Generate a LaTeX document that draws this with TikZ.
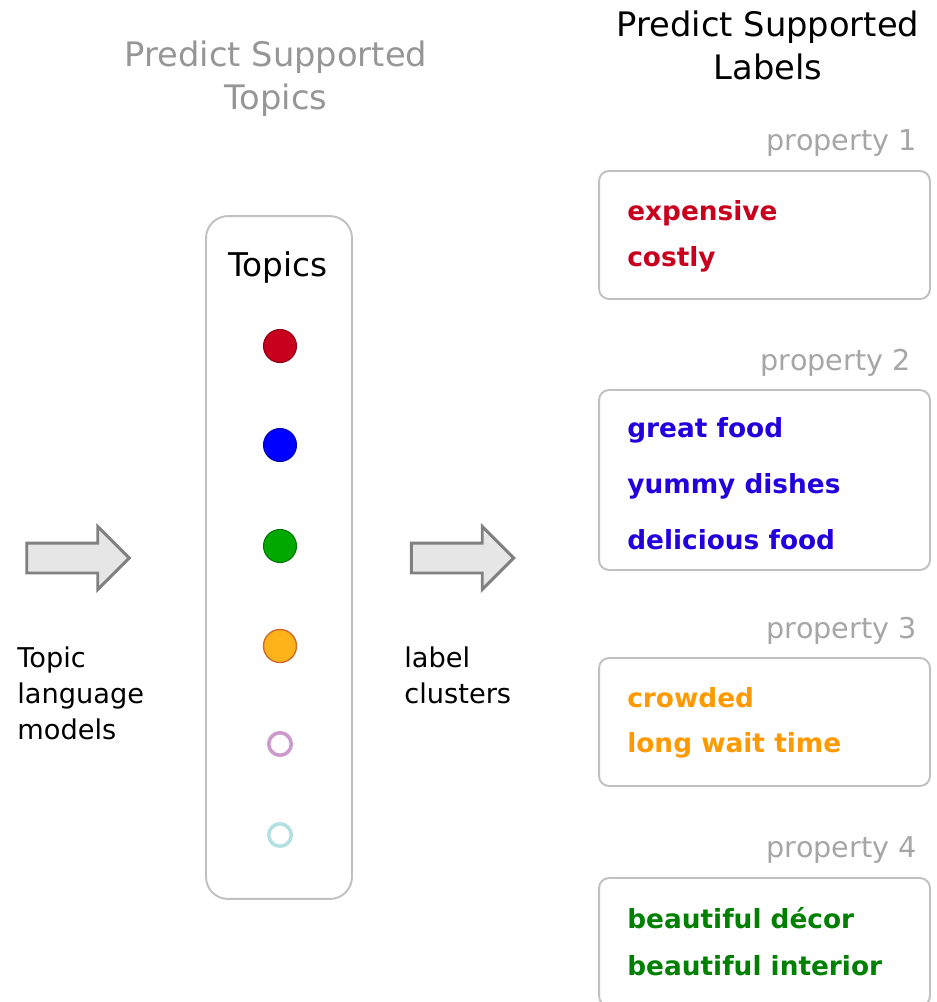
\documentclass[tikz,border=0pt]{standalone}
\usepackage{fontspec}
\setmainfont{DejaVu Sans}
\usepackage{tikz}
\usetikzlibrary{shapes.arrows}

\definecolor{headgray}{RGB}{150,150,150}
\definecolor{propgray}{RGB}{166,166,166}
\definecolor{boxgray}{RGB}{192,192,192}
\definecolor{arrowgray}{RGB}{128,128,128}
\definecolor{arrowfill}{RGB}{230,230,230}
\definecolor{wred}{RGB}{200,0,30}
\definecolor{wblue}{RGB}{34,0,221}
\definecolor{worange}{RGB}{255,153,0}
\definecolor{wgreen}{RGB}{0,128,0}
\definecolor{dblue}{RGB}{0,0,255}
\definecolor{dgreen}{RGB}{0,168,0}
\definecolor{dorange}{RGB}{255,179,26}
\definecolor{dorangeline}{RGB}{208,107,42}
\definecolor{rpurple}{RGB}{204,153,204}
\definecolor{rcyan}{RGB}{179,224,224}

\begin{document}
\begin{tikzpicture}[x=0.02cm,y=-0.02cm,
        headline/.style={align=center,font=\fontsize{19.2}{24.5}\selectfont},
        sidetext/.style={align=left,anchor=west,inner sep=0pt,font=\fontsize{15.5}{20.5}\selectfont},
        proptext/.style={anchor=east,inner sep=0pt,text=propgray,font=\fontsize{16.3}{20}\selectfont},
        words/.style={align=left,anchor=west,inner sep=0pt,font=\bfseries\fontsize{15}{#1}\selectfont},
        labelbox/.style={draw=boxgray,line width=1.1pt,rounded corners=0.2cm,
                         minimum width=6.62cm,minimum height=2.56cm},
        dot/.style={circle,draw=#1!70!black,fill=#1,line width=0.6pt,minimum size=0.66cm,inner sep=0pt},
        ring/.style={circle,draw=#1,line width=2pt,minimum size=0.45cm,inner sep=0pt},
        bigarrow/.style={single arrow,draw=arrowgray,fill=arrowfill,line width=1.7pt,
                         minimum height=2.05cm,text height=0.27cm,text depth=0.27cm,
                         single arrow head extend=0.33cm,inner sep=0pt}]

  \useasboundingbox (0,0) rectangle (937,1002);
  \clip (0,0) rectangle (937,1002);

  \node[headline,text=headgray] (t_topics) at (276,79) {Predict Supported\\Topics};
  \node[headline] (t_labels) at (768,45.5) {Predict Supported\\Labels};

  % topic column
  \node[draw=boxgray,line width=1.1pt,rounded corners=0.44cm,
        minimum width=2.92cm,minimum height=13.66cm] (col) at (279,557.5) {};
  \node[font=\fontsize{18.6}{22}\selectfont] (col_title) at (278,267) {Topics};
  \node[dot=wred] (d_1) at (280,346) {};
  \node[dot=dblue] (d_2) at (280,445) {};
  \node[dot=dgreen] (d_3) at (280,546) {};
  \node[dot=dorange,draw=dorangeline,line width=0.8pt] (d_4) at (280,646) {};
  \node[ring=rpurple] (d_5) at (280,744) {};
  \node[ring=rcyan] (d_6) at (280,835) {};

  % arrows
  \node[bigarrow] (a_in) at (70.5,558) {};
  \node[bigarrow] (a_out) at (455,558) {};
  \node[sidetext] (lm) at (17,693) {Topic\\language\\models};
  \node[sidetext] (lc) at (404,675) {label\\clusters};

  % label clusters
  \node[proptext] (p_1) at (917,143) {property 1};
  \node[labelbox] (b_1) at (764.5,235) {};
  \node[words=26.2,text=wred] (w_1) at (627,236) {expensive\\costly};

  \node[proptext] (p_2) at (911,363) {property 2};
  \node[labelbox,minimum height=3.6cm] (b_2) at (764.5,480) {};
  \node[words=31.9,text=wblue] (w_2) at (627,484) {great food\\yummy dishes\\delicious food};

  \node[proptext] (p_3) at (917,631) {property 3};
  \node[labelbox] (b_3) at (764.5,722) {};
  \node[words=25.6,text=worange] (w_3) at (627,722.5) {crowded\\long wait time};

  \node[proptext] (p_4) at (917,850) {property 4};
  \node[labelbox] (b_4) at (764.5,942) {};
  \node[words=26.8,text=wgreen] (w_4) at (627,941.5) {beautiful décor\\beautiful interior};

\end{tikzpicture}
\end{document}
